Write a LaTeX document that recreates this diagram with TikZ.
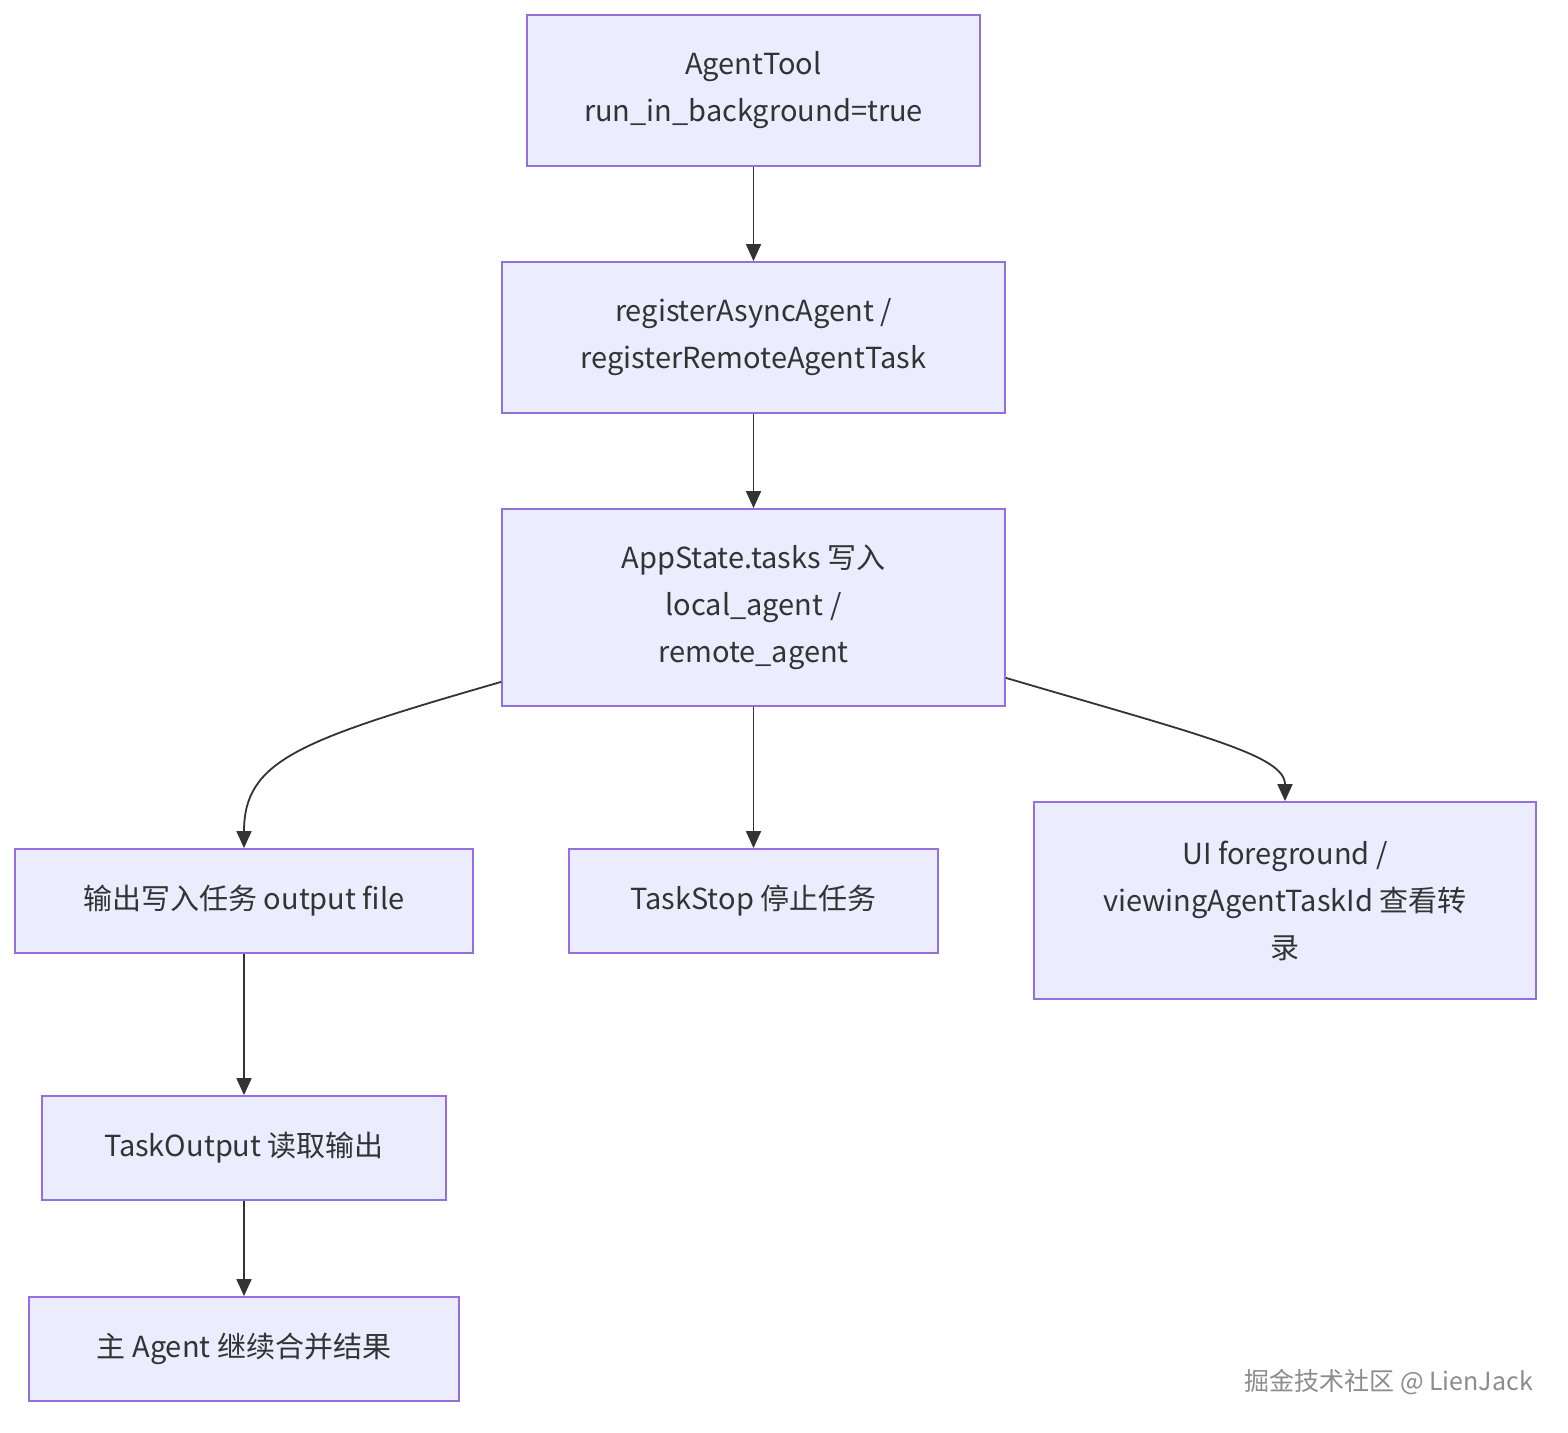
\documentclass[tikz,border=0pt]{standalone}
\usepackage{fontspec}
\setmainfont{Noto Sans CJK SC}
\usetikzlibrary{arrows.meta,calc}
\definecolor{boxfill}{HTML}{ECECFF}
\definecolor{boxline}{HTML}{9370DB}
\definecolor{txt}{HTML}{333333}
\tikzset{
  flowbox/.style={draw=boxline, fill=boxfill, line width=1.8pt, inner sep=0pt,
    align=center, text=txt, font=\fontsize{29}{47}\selectfont},
  link/.style={draw=txt, line width=1.8pt, -{Triangle[length=17pt,width=15pt]}},
}
\begin{document}
\begin{tikzpicture}[x=1pt,y=-1pt]
\useasboundingbox (0,0) rectangle (1568,1432);
\fill[white] (0,0) rectangle (1568,1432);
\node[flowbox, minimum width=453pt, minimum height=151pt] (tool) at (753.5,90.5) {AgentTool\\run\_in\_background=true};
\node[flowbox, minimum width=503pt, minimum height=151pt] (reg) at (753.5,337.5) {registerAsyncAgent /\\registerRemoteAgentTask};
\node[flowbox, minimum width=503pt, minimum height=197pt] (app) at (753.5,607.5) {AppState.tasks 写入\\local\_agent /\\remote\_agent};
\node[flowbox, minimum width=458pt, minimum height=104pt] (out) at (244,901) {输出写入任务 output file};
\node[flowbox, minimum width=369pt, minimum height=104pt] (stop) at (753.5,901) {TaskStop 停止任务};
\node[flowbox, minimum width=502pt, minimum height=197pt] (ui) at (1285,900.5) {UI foreground /\\viewingAgentTaskId 查看转\\录};
\node[flowbox, minimum width=404pt, minimum height=104pt] (tout) at (244,1148) {TaskOutput 读取输出};
\node[flowbox, minimum width=430pt, minimum height=104pt] (main) at (244,1349) {主 Agent 继续合并结果};
\node[anchor=east, text=black!45, font=\fontsize{25}{30}\selectfont, inner sep=0pt] (wm) at (1533,1382) {掘金技术社区 @ LienJack};

\draw[link] (tool) -- (reg);
\draw[link] (reg) -- (app);
\draw[link] (app) -- (stop);
\draw[link] ([yshift=25pt]app.south west) .. controls (300,740) and (244,760) .. (out.north);
\draw[link] ([yshift=29pt]app.south east) .. controls (1200,735) and (1285,755) .. (ui.north);
\draw[link] (out) -- (tout);
\draw[link] (tout) -- (main);
\end{tikzpicture}
\end{document}
